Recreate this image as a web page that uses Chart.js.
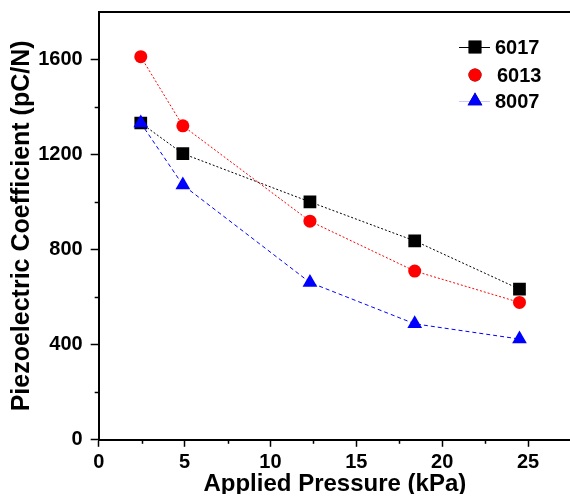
<!DOCTYPE html>
<html>
<head>
<meta charset="utf-8" />
<title>Piezoelectric Coefficient</title>
<script src="https://cdn.jsdelivr.net/npm/chart.js@4.4.1/dist/chart.umd.min.js"></script>
<style>
  html, body { margin: 0; padding: 0; background: #fff; }
  #box { width: 570px; height: 497px; overflow: hidden; }
  #myChart { display: block; margin-top: -8px; }
</style>
</head>
<body>
<div id="box"><canvas id="myChart" width="580" height="502"></canvas></div>

<script>
// pressure (kPa) for each measuring point
const pressure = [2.45, 4.9, 12.3, 18.4, 24.5];

// piezoelectric coefficient (pC/N)
const s6017 = [1333, 1204, 1001, 837, 634];
const s6013 = [1612, 1321, 920, 710, 578];
const s8007 = [1333, 1072, 662, 488, 424];

const seriesNames = ['6017', '6013', '8007'];
const minorX = [2.5, 7.5, 12.5, 17.5, 22.5];
const minorY = [200, 600, 1000, 1400];

const FONT = '"Liberation Sans", Arial, sans-serif';

function pts(ys) {
  return pressure.map(function (x, i) { return { x: x, y: ys[i] }; });
}

// short minor ticks on both axes + legend drawn inside the plot
const extras = {
  id: 'extras',
  afterDraw: function (chart) {
    const c = chart.ctx;
    const xs = chart.scales.x, ys = chart.scales.y;
    const a = chart.chartArea;
    c.save();
    c.strokeStyle = '#000';
    c.lineWidth = 1.5;
    minorX.forEach(function (v) {
      const px = Math.round(xs.getPixelForValue(v)) + 0.5;
      c.beginPath(); c.moveTo(px, a.bottom); c.lineTo(px, a.bottom + 4); c.stroke();
    });
    minorY.forEach(function (v) {
      const py = Math.round(ys.getPixelForValue(v)) + 0.5;
      c.beginPath(); c.moveTo(a.left, py); c.lineTo(a.left - 4, py); c.stroke();
    });

    // legend
    const lx = a.right - 112;
    const rows = [35, 63, 89];
    chart.data.datasets.forEach(function (ds, i) {
      const y = a.top + rows[i];
      const mx = lx + 16;
      if (i !== 1) {
        c.strokeStyle = i === 0 ? '#000' : '#c8c8ff';
        c.lineWidth = 1;
        c.setLineDash([]);
        c.beginPath(); c.moveTo(lx, y + 0.5); c.lineTo(lx + 31, y + 0.5); c.stroke();
      }
      Chart.helpers.drawPoint(c, {
        pointStyle: ds.pointStyle, radius: ds.pointRadius, rotation: 0, borderWidth: 0
      }, mx, y);
      c.fillStyle = ds.backgroundColor;
      c.fill();
      c.fillStyle = '#000';
      c.font = 'bold 20px ' + FONT;
      c.textBaseline = 'middle';
      c.fillText(seriesNames[i], lx + (i === 1 ? 38 : 36), y + 1);
    });
    c.restore();
  }
};

function plain(v) { return String(v); }

new Chart(document.getElementById('myChart'), {
  type: 'scatter',
  data: {
    datasets: [
      {
        label: seriesNames[0], data: pts(s6017), showLine: true, order: 2,
        borderColor: '#000', backgroundColor: '#000', borderWidth: 1, borderDash: [2, 2],
        pointStyle: 'rect', pointRadius: 9, pointBorderWidth: 0
      },
      {
        label: seriesNames[1], data: pts(s6013), showLine: true, order: 1,
        borderColor: '#ff0000', backgroundColor: '#ff0000', borderWidth: 1, borderDash: [2, 2],
        pointStyle: 'circle', pointRadius: 6.5, pointBorderWidth: 0
      },
      {
        label: seriesNames[2], data: pts(s8007), showLine: true, order: 0,
        borderColor: '#0000ff', backgroundColor: '#0000ff', borderWidth: 1, borderDash: [4, 3],
        pointStyle: 'triangle', pointRadius: 8.5, pointBorderWidth: 0
      }
    ]
  },
  options: {
    responsive: false,
    animation: false,
    layout: { padding: { left: 3, top: 5, right: -9, bottom: -7 } },
    plugins: { legend: { display: false }, tooltip: { enabled: false } },
    scales: {
      x: {
        type: 'linear', min: 0, max: 27.5,
        ticks: {
          stepSize: 5, includeBounds: false, padding: 4, color: '#000', callback: plain,
          font: { family: FONT, size: 20, weight: 'bold' }
        },
        grid: { drawOnChartArea: false, tickLength: 7, tickColor: '#000', tickWidth: 1.5 },
        border: { color: '#000', width: 2 },
        title: {
          display: true, text: 'Applied Pressure (kPa)', color: '#000',
          font: { family: FONT, size: 24, weight: 'bold' }, padding: { top: -8.6, bottom: 2 }
        }
      },
      top: {
        type: 'linear', position: 'top', min: 0, max: 27.5,
        ticks: { display: false, includeBounds: false },
        grid: { drawOnChartArea: false, drawTicks: false },
        border: { color: '#000', width: 2 }
      },
      y: {
        type: 'linear', min: 0, max: 1800,
        ticks: {
          stepSize: 400, includeBounds: false, padding: 8, color: '#000', callback: plain,
          font: { family: FONT, size: 20, weight: 'bold' }
        },
        grid: { drawOnChartArea: false, tickLength: 8, tickColor: '#000', tickWidth: 1.5 },
        border: { color: '#000', width: 2 },
        title: {
          display: true, text: 'Piezoelectric Coefficient (pC/N)', color: '#000',
          font: { family: FONT, size: 25, weight: 'bold' }, padding: { top: 4.6, bottom: -7.4 }
        }
      }
    }
  },
  plugins: [extras]
});
</script>
</body>
</html>
